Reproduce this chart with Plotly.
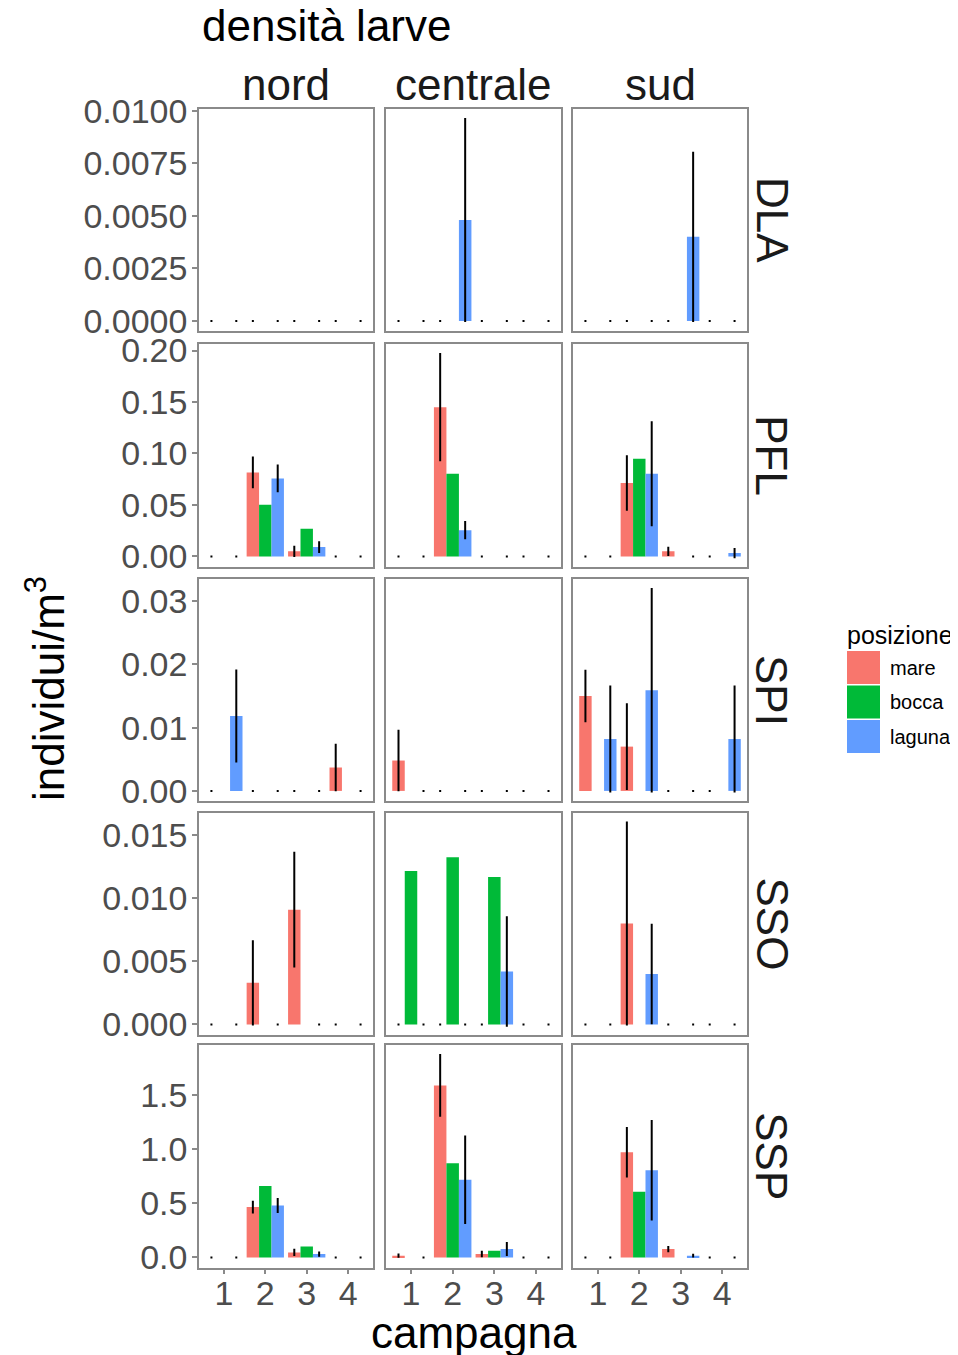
import plotly.graph_objects as go

# ---------------- data ----------------
campagne = [1, 2, 3, 4]
regioni = ["nord", "centrale", "sud"]
specie = ["DLA", "PFL", "SPI", "SSO", "SSP"]
posizioni = ["mare", "bocca", "laguna"]
colori = ["#F8766D", "#00BA38", "#619CFF"]

# means per region (nord, centrale, sud) x campagna 1..4
DLA_mare = [[0, 0, 0, 0], [0, 0, 0, 0], [0, 0, 0, 0]]
DLA_mare_se = [[0, 0, 0, 0], [0, 0, 0, 0], [0, 0, 0, 0]]
DLA_bocca = [[0, 0, 0, 0], [0, 0, 0, 0], [0, 0, 0, 0]]
DLA_laguna = [[0, 0, 0, 0], [0, 0.0048, 0, 0], [0, 0, 0.0040, 0]]
DLA_laguna_se = [[0, 0, 0, 0], [0, 0.0048, 0, 0], [0, 0, 0.0040, 0]]

PFL_mare = [[0, 0.0816, 0.0049, 0], [0, 0.145, 0, 0], [0, 0.0712, 0.0049, 0]]
PFL_mare_se = [[0, 0.0145, 0.0045, 0], [0, 0.0515, 0, 0], [0, 0.026, 0.0035, 0]]
PFL_bocca = [[0, 0.0502, 0.0269, 0], [0, 0.0803, 0, 0], [0, 0.0948, 0, 0]]
PFL_laguna = [[0, 0.0757, 0.009, 0], [0, 0.0255, 0, 0], [0, 0.0803, 0, 0.0032]]
PFL_laguna_se = [[0, 0.0125, 0.0048, 0], [0, 0.0078, 0, 0], [0, 0.05, 0, 0.004]]

SPI_mare = [[0, 0, 0, 0.0037], [0.0048, 0, 0, 0], [0.0150, 0.0070, 0, 0]]
SPI_mare_se = [[0, 0, 0, 0.0036], [0.0047, 0, 0, 0], [0.0040, 0.0067, 0, 0]]
SPI_bocca = [[0, 0, 0, 0], [0, 0, 0, 0], [0, 0, 0, 0]]
SPI_laguna = [[0.01185, 0, 0, 0], [0, 0, 0, 0], [0.0082, 0.0159, 0, 0.0082]]
SPI_laguna_se = [[0.0072, 0, 0, 0], [0, 0, 0, 0], [0.0083, 0.016, 0, 0.0083]]

SSO_mare = [[0, 0.0033, 0.0091, 0], [0, 0, 0, 0], [0, 0.0080, 0, 0]]
SSO_mare_se = [[0, 0.0033, 0.0045, 0], [0, 0, 0, 0], [0, 0.0080, 0, 0]]
SSO_bocca = [[0, 0, 0, 0], [0.01216, 0.01325, 0.01169, 0], [0, 0, 0, 0]]
SSO_laguna = [[0, 0, 0, 0], [0, 0, 0.0042, 0], [0, 0.0040, 0, 0]]
SSO_laguna_se = [[0, 0, 0, 0], [0, 0, 0.0043, 0], [0, 0.0039, 0, 0]]

SSP_mare = [[0, 0.465, 0.046, 0], [0.016, 1.590, 0.031, 0], [0, 0.972, 0.077, 0]]
SSP_mare_se = [[0, 0.05, 0.025, 0], [0.01, 0.28, 0.02, 0], [0, 0.225, 0.02, 0]]
SSP_bocca = [[0, 0.661, 0.10, 0], [0, 0.871, 0.062, 0], [0, 0.606, 0, 0]]
SSP_laguna = [[0, 0.48, 0.031, 0], [0, 0.717, 0.077, 0], [0, 0.806, 0.016, 0]]
SSP_laguna_se = [[0, 0.06, 0.015, 0], [0, 0.40, 0.055, 0], [0, 0.455, 0.008, 0]]

ytick_vals = {
    "DLA": [0, 0.0025, 0.005, 0.0075, 0.01],
    "PFL": [0, 0.05, 0.10, 0.15, 0.20],
    "SPI": [0, 0.01, 0.02, 0.03],
    "SSO": [0, 0.005, 0.010, 0.015],
    "SSP": [0, 0.5, 1.0, 1.5],
}
ytick_fmt = {"DLA": ".4f", "PFL": ".2f", "SPI": ".2f", "SSO": ".3f", "SSP": ".1f"}

table = {
    "DLA": (DLA_mare, DLA_mare_se, DLA_bocca, DLA_laguna, DLA_laguna_se),
    "PFL": (PFL_mare, PFL_mare_se, PFL_bocca, PFL_laguna, PFL_laguna_se),
    "SPI": (SPI_mare, SPI_mare_se, SPI_bocca, SPI_laguna, SPI_laguna_se),
    "SSO": (SSO_mare, SSO_mare_se, SSO_bocca, SSO_laguna, SSO_laguna_se),
    "SSP": (SSP_mare, SSP_mare_se, SSP_bocca, SSP_laguna, SSP_laguna_se),
}

# ---------------- layout geometry (page pixels) ----------------
OFF = 8                      # default page body margin
W, H = 958 - OFF, 1355 - OFF


def px(x):
    return (x - OFF) / W


def py(y):
    return 1 - (y - OFF) / H


col_px = [(199, 373), (386, 561), (573, 747)]
row_px = [(109, 331), (344, 566.5), (579, 801), (812.5, 1034.5), (1045, 1267.5)]

FONT = "Liberation Sans, Arial, sans-serif"
TICKC = "#4D4D4D"
BORDER = "#8A8A8A"

fig = go.Figure()
layout = dict(
    width=W, height=H,
    margin=dict(l=0, r=0, t=0, b=0, pad=0),
    paper_bgcolor="white", plot_bgcolor="white",
    barmode="group", bargap=0.1, bargroupgap=0,
    showlegend=False,
    font=dict(family=FONT, color="black"),
)

for r, sp in enumerate(specie):
    mare, mare_se, bocca, laguna, laguna_se = table[sp]
    ymax = max(
        max(m + s for mm, ss in zip(mare, mare_se) for m, s in zip(mm, ss)),
        max(v for row in bocca for v in row),
        max(m + s for mm, ss in zip(laguna, laguna_se) for m, s in zip(mm, ss)),
    )
    yr = [-0.05 * ymax, 1.05 * ymax]
    for c, reg in enumerate(regioni):
        i = r * 3 + c + 1
        xa = "x" if i == 1 else f"x{i}"
        ya = "y" if i == 1 else f"y{i}"
        series = [(mare[c], mare_se[c]), (bocca[c], None), (laguna[c], laguna_se[c])]
        for k, (vals, se) in enumerate(series):
            tr = go.Bar(
                x=campagne, y=vals, name=posizioni[k],
                marker=dict(color=colori[k], line=dict(width=0)),
                xaxis=xa, yaxis=ya, showlegend=False,
            )
            if se is not None:
                tr.error_y = dict(type="data", array=se, visible=True,
                                  color="black", thickness=2, width=1)
            fig.add_trace(tr)
        x0, x1 = col_px[c]
        y0, y1 = row_px[r]
        bottom = (r == len(specie) - 1)
        left = (c == 0)
        layout["xaxis" if i == 1 else f"xaxis{i}"] = dict(
            domain=[px(x0), px(x1)], anchor=ya, range=[0.4, 4.6],
            tickvals=campagne, showticklabels=bottom, automargin=False,
            ticks="outside" if bottom else "", ticklen=5, tickwidth=1.5,
            tickcolor=BORDER, ticklabelstandoff=-10,
            showgrid=False, zeroline=False,
            showline=True, mirror=True, linecolor=BORDER, linewidth=1.5,
            tickfont=dict(size=34, color=TICKC, family=FONT),
        )
        layout["yaxis" if i == 1 else f"yaxis{i}"] = dict(
            domain=[py(y1), py(y0)], anchor=xa, range=yr,
            tickvals=ytick_vals[sp], tickformat=ytick_fmt[sp],
            showticklabels=left, automargin=False,
            ticks="outside" if left else "", ticklen=5, tickwidth=1.5,
            tickcolor=BORDER, ticklabelstandoff=-2,
            showgrid=False, zeroline=False,
            showline=True, mirror=True, linecolor=BORDER, linewidth=1.5,
            tickfont=dict(size=34, color=TICKC, family=FONT),
        )

fig.update_layout(**layout)


def note(text, x, y, size, xanchor="center", angle=0, color="black"):
    return dict(text=text, x=px(x), y=py(y), xref="paper", yref="paper",
                xanchor=xanchor, yanchor="middle", showarrow=False, textangle=angle,
                font=dict(size=size, color=color, family=FONT))


ann = [note("densità larve", 200, 26, 44, xanchor="left")]
for c, reg in enumerate(regioni):
    ann.append(note(reg, (col_px[c][0] + col_px[c][1]) / 2, 84, 44, color="#1A1A1A"))
for r, sp in enumerate(specie):
    ann.append(note(sp, 772, (row_px[r][0] + row_px[r][1]) / 2, 44, angle=90, color="#1A1A1A"))
ann.append(note("campagna", 473.5, 1332, 44))
ann.append(note("individui/m<sup>3</sup>", 45, 689, 44, angle=-90))
ann.append(note("posizione", 845, 635, 25, xanchor="left"))

shapes = []
key_top = 651
for k, pos in enumerate(posizioni):
    t = key_top + k * 34.5
    shapes.append(dict(type="rect", xref="paper", yref="paper",
                       x0=px(847), x1=px(880), y0=py(t + 33), y1=py(t),
                       fillcolor=colori[k], line=dict(width=0)))
    ann.append(note(pos, 888, t + 17, 20, xanchor="left"))

fig.update_layout(annotations=ann, shapes=shapes)
fig.write_html("out.html")
